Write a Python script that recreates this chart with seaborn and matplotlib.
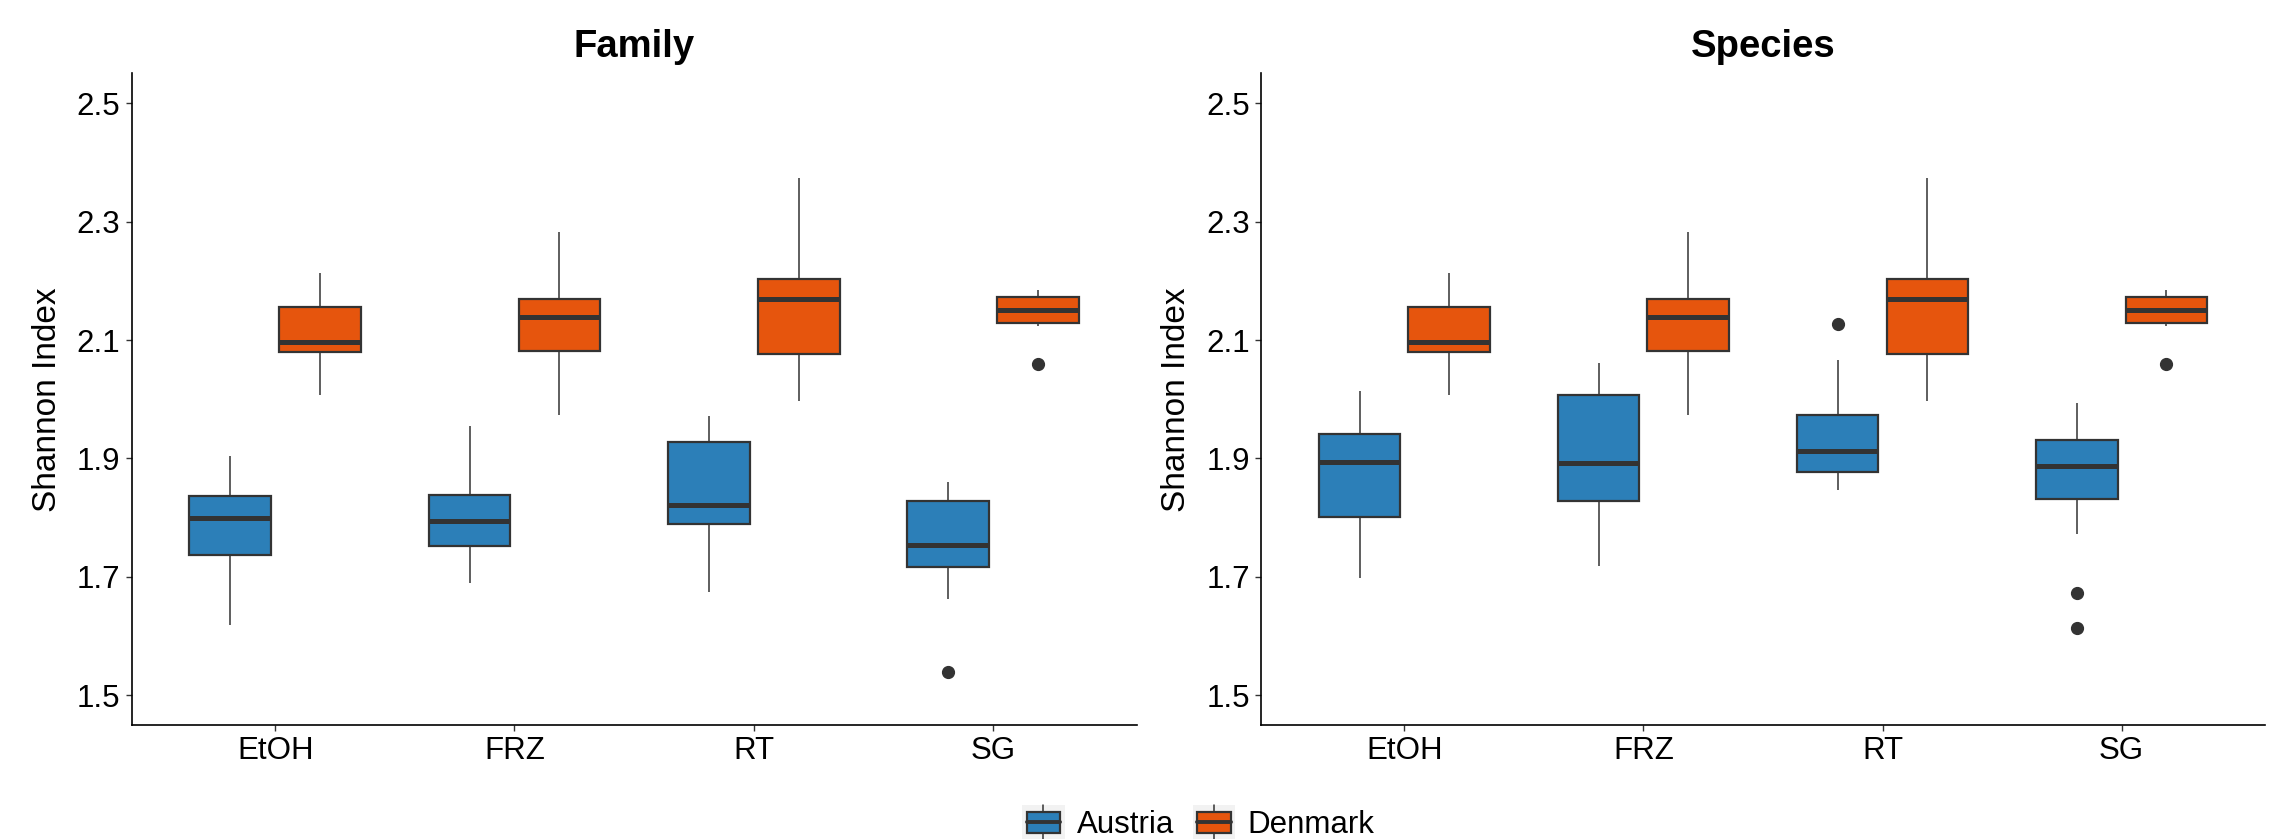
import numpy as np
import pandas as pd
import matplotlib
matplotlib.use("Agg")
import matplotlib.pyplot as plt
import matplotlib.patches as mpatches
from matplotlib.lines import Line2D
from matplotlib.legend_handler import HandlerPatch
import seaborn as sns

sns.set_style("ticks")
plt.rcParams['font.family'] = ['Liberation Sans', 'DejaVu Sans']
plt.rcParams['text.color'] = 'black'
plt.rcParams['axes.labelcolor'] = 'black'
plt.rcParams['xtick.color'] = '#333333'
plt.rcParams['ytick.color'] = '#333333'
plt.rcParams['xtick.labelcolor'] = 'black'
plt.rcParams['ytick.labelcolor'] = 'black'

# Sample values (one list per preservation method)
methods = ["EtOH", "FRZ", "RT", "SG"]
countries = ["Austria", "Denmark"]
colors = ["#2C7FB8", "#E6550D"]

family_austria = [
    [1.619, 1.690, 1.737, 1.770, 1.799, 1.818, 1.836, 1.870, 1.905],
    [1.690, 1.720, 1.752, 1.775, 1.794, 1.815, 1.839, 1.900, 1.954],
    [1.675, 1.740, 1.790, 1.805, 1.822, 1.880, 1.928, 1.950, 1.971],
    [1.540, 1.662, 1.717, 1.735, 1.754, 1.790, 1.828, 1.845, 1.861],
]
family_denmark = [
    [2.007, 2.050, 2.080, 2.090, 2.097, 2.130, 2.156, 2.190, 2.213],
    [1.973, 2.030, 2.081, 2.110, 2.139, 2.155, 2.170, 2.230, 2.283],
    [1.997, 2.040, 2.076, 2.120, 2.169, 2.185, 2.203, 2.290, 2.373],
    [2.059, 2.124, 2.129, 2.140, 2.151, 2.162, 2.172, 2.178, 2.184],
]
species_austria = [
    [1.699, 1.750, 1.802, 1.850, 1.894, 1.920, 1.942, 1.980, 2.014],
    [1.718, 1.780, 1.829, 1.860, 1.892, 1.950, 2.007, 2.035, 2.061],
    [1.846, 1.860, 1.877, 1.895, 1.913, 1.940, 1.974, 2.066, 2.127],
    [1.613, 1.672, 1.772, 1.831, 1.850, 1.870, 1.887, 1.900, 1.915,
     1.932, 1.950, 1.970, 1.993],
]
species_denmark = [
    [2.007, 2.050, 2.080, 2.090, 2.097, 2.130, 2.156, 2.190, 2.213],
    [1.973, 2.030, 2.081, 2.110, 2.139, 2.155, 2.170, 2.230, 2.283],
    [1.997, 2.040, 2.076, 2.120, 2.169, 2.185, 2.203, 2.290, 2.373],
    [2.059, 2.124, 2.129, 2.140, 2.151, 2.162, 2.172, 2.178, 2.184],
]

yticks = [1.5, 1.7, 1.9, 2.1, 2.3, 2.5]


def to_long(austria, denmark):
    rows = []
    for country, groups in zip(countries, [austria, denmark]):
        for method, vals in zip(methods, groups):
            for v in vals:
                rows.append({"method": method, "country": country, "shannon": v})
    return pd.DataFrame(rows)


class BoxKeyHandler(HandlerPatch):
    # ggplot-like legend key: grey background, box with median and whisker
    def create_artists(self, legend, orig_handle, xdescent, ydescent,
                       width, height, fontsize, trans):
        x0, y0 = -xdescent, -ydescent
        bg = mpatches.Rectangle((x0, y0), width, height, facecolor="#f2f2f2",
                                edgecolor="none", transform=trans)
        box = mpatches.Rectangle((x0 + width * 0.1, y0 + height * 0.2),
                                 width * 0.8, height * 0.6,
                                 facecolor=orig_handle.get_facecolor(),
                                 edgecolor="#333333", lw=1.6, transform=trans)
        xm, ym = x0 + width / 2, y0 + height / 2
        med = Line2D([x0 + width * 0.1, x0 + width * 0.9], [ym, ym],
                     color="#333333", lw=2.8, transform=trans)
        wt = Line2D([xm, xm], [y0 + height * 0.8, y0 + height], color="#333333",
                    lw=1.1, transform=trans)
        wb = Line2D([xm, xm], [y0, y0 + height * 0.2], color="#333333",
                    lw=1.1, transform=trans)
        return [bg, box, med, wt, wb]


panels = {
    "Family": to_long(family_austria, family_denmark),
    "Species": to_long(species_austria, species_denmark),
}

fig = plt.figure(figsize=(22.96, 8.39), dpi=100)
ax1 = fig.add_axes([0.0573, 0.1359, 0.4378, 0.7765])
ax2 = fig.add_axes([0.5492, 0.1359, 0.4373, 0.7765])

for ax, (title, df) in zip([ax1, ax2], panels.items()):
    sns.boxplot(data=df, x="method", y="shannon", hue="country",
                order=methods, hue_order=countries, palette=colors,
                saturation=1, width=0.75, gap=0.09, linecolor="#333333",
                linewidth=1.6, showcaps=False, legend=False, ax=ax,
                medianprops={"linewidth": 3.6, "color": "#333333"},
                whiskerprops={"linewidth": 1.1, "color": "#333333"},
                flierprops={"marker": "o", "markersize": 8.5,
                            "markerfacecolor": "#333333",
                            "markeredgecolor": "#333333"})
    ax.set_xlim(-0.6, 3.6)
    ax.set_ylim(1.45, 2.55)
    ax.set_yticks(yticks)
    ax.set_yticklabels([f"{t:.1f}" for t in yticks])
    ax.set_xlabel("")
    ax.set_ylabel("Shannon Index", fontsize=24, labelpad=10)
    ax.set_title(title, fontsize=27.5, fontweight="bold", pad=12)
    ax.tick_params(axis="both", labelsize=22.5, length=4, width=1, pad=4)
    sns.despine(ax=ax)
    for side in ["left", "bottom"]:
        ax.spines[side].set_linewidth(1.2)
        ax.spines[side].set_color("black")

handles = [mpatches.Patch(facecolor=c, label=n) for n, c in zip(countries, colors)]
fig.legend(handles=handles, loc="center", bbox_to_anchor=(0.522, 0.02),
           ncol=2, frameon=False, fontsize=22.5, handlelength=1.35,
           handleheight=1.35, handletextpad=0.4, columnspacing=0.6,
           handler_map={mpatches.Patch: BoxKeyHandler()})

fig.savefig("out.png", dpi=100)
